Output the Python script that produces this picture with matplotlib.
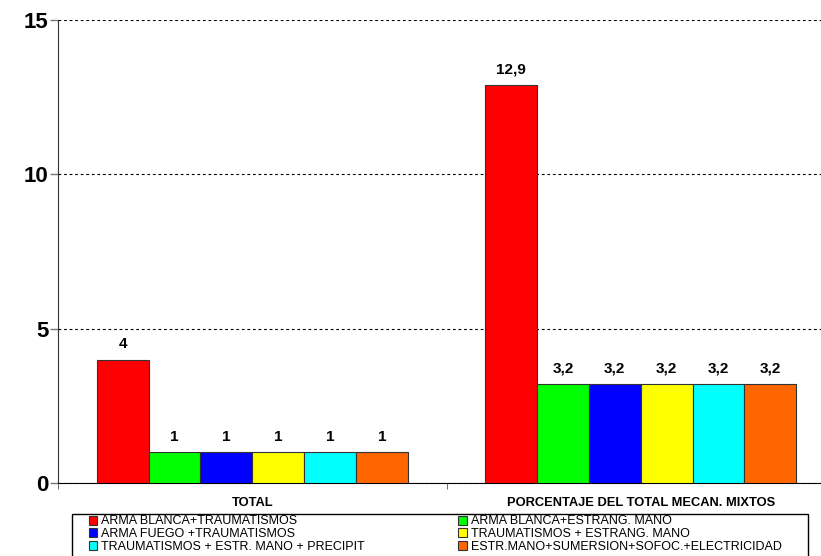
import matplotlib
matplotlib.use("Agg")
import matplotlib.pyplot as plt
from matplotlib.patches import Patch, Rectangle
import numpy as np

plt.rcParams['font.family'] = ['Liberation Sans', 'DejaVu Sans']

groups = ['TOTAL', 'PORCENTAJE DEL TOTAL MECAN. MIXTOS']
series = ['ARMA BLANCA+TRAUMATISMOS', 'ARMA BLANCA+ESTRANG. MANO',
          'ARMA FUEGO +TRAUMATISMOS', 'TRAUMATISMOS + ESTRANG. MANO',
          'TRAUMATISMOS + ESTR. MANO + PRECIPIT',
          'ESTR.MANO+SUMERSION+SOFOC.+ELECTRICIDAD']
values = [
    [4, 12.9],
    [1, 3.2],
    [1, 3.2],
    [1, 3.2],
    [1, 3.2],
    [1, 3.2],
]
labels = [
    ['4', '12,9'],
    ['1', '3,2'],
    ['1', '3,2'],
    ['1', '3,2'],
    ['1', '3,2'],
    ['1', '3,2'],
]
colors = ['#FF0000', '#00FF00', '#0000FF', '#FFFF00', '#00FFFF', '#FF6600']

W, H = 821, 556
fig = plt.figure(figsize=(W / 100, H / 100), dpi=100)
ax = fig.add_axes([58 / W, 73 / H, 763 / W, 463 / H])

x = np.arange(len(groups))
w = 0.1335
n = len(series)
for i in range(n):
    pos = x + (i - (n - 1) / 2) * w
    bars = ax.bar(pos, values[i], w, color=colors[i], edgecolor='#333333',
                  linewidth=0.8, zorder=3)
    for b, lab in zip(bars, labels[i]):
        ax.annotate(lab, (b.get_x() + b.get_width() / 2, b.get_height()),
                    xytext=(0, 6), textcoords='offset points',
                    ha='center', va='bottom', fontsize=11, fontweight='bold')

ax.set_yticks([0, 5, 10, 15])
ax.tick_params(axis='y', labelsize=16, length=6, width=1, color='#777777', pad=1)
for lab in ax.get_yticklabels():
    lab.set_fontweight('bold')
ax.yaxis.grid(True, linestyle=(0, (2.5, 2.5)), color='black', linewidth=0.8, zorder=0)

ax.set_xticks(x)
ax.set_xticklabels(groups, fontsize=9.3, fontweight='bold')
ax.set_xticks([-0.5, 0.5], minor=True)
ax.tick_params(axis='x', which='major', length=0, pad=10)
ax.tick_params(axis='x', which='minor', length=4, color='#555555')

# limits last so the ticks do not widen them
ax.set_xlim(-0.5, -0.5 + 763 / 388.5)
ax.set_ylim(0, 15)

for s in ['top', 'right']:
    ax.spines[s].set_visible(False)
ax.spines['left'].set_color('#333333')
ax.spines['bottom'].set_color('black')

# legend box drawn separately
fig.add_artist(Rectangle((72 / W, -0.01), 736 / W, 0.01 + 42 / H,
                         transform=fig.transFigure, facecolor='white',
                         edgecolor='black', linewidth=1))

order = [0, 2, 4, 1, 3, 5]
handles = [Patch(facecolor=colors[i], edgecolor='#333333', linewidth=0.8) for i in order]
leg = fig.legend(handles, [series[i] for i in order], ncol=2,
                 loc='upper left', bbox_to_anchor=(86 / W, 1 - 513 / H),
                 fontsize=9, frameon=False,
                 handlelength=0.7, handleheight=0.7, handletextpad=0.3,
                 labelspacing=0.05, borderpad=0.2, borderaxespad=0,
                 columnspacing=7.5)

fig.savefig('out.png', dpi=100)
